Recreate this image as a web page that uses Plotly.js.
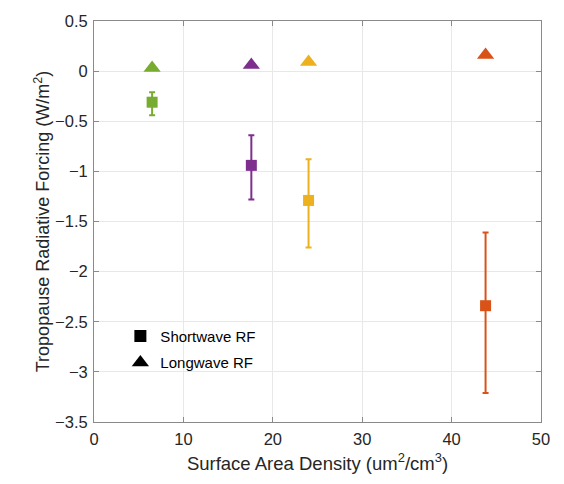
<!DOCTYPE html>
<html><head><meta charset="utf-8">
<script src="https://cdn.plot.ly/plotly-3.0.1.min.js"></script>
<style>body{margin:0;background:#fff}#c{width:564px;height:484px}</style>
</head><body><div id="c"></div>
<script>
const sad = [6.5, 17.6, 24.0, 43.8];
const colors = ['#77AC30', '#7E2F8E', '#EDB120', '#D95319'];
const swRF = [-0.31, -0.94, -1.29, -2.34];
const swErrPlus = [0.10, 0.30, 0.41, 0.73];
const swErrMinus = [0.13, 0.34, 0.47, 0.87];
const lwRF = [0.03, 0.06, 0.09, 0.16];
const legendNames = ['Shortwave RF', 'Longwave RF'];

const traces = [];
for (let i = 0; i < sad.length; i++) {
  traces.push({
    x: [sad[i]], y: [swRF[i]], type: 'scatter', mode: 'markers', showlegend: false,
    marker: {symbol: 'square', size: 11, color: colors[i]},
    error_y: {type: 'data', symmetric: false, array: [swErrPlus[i]], arrayminus: [swErrMinus[i]],
      color: colors[i], thickness: 2, width: 3}
  });
  traces.push({
    x: [sad[i]], y: [lwRF[i]], type: 'scatter', mode: 'markers', showlegend: false,
    marker: {symbol: 'triangle-up', size: 15, color: colors[i]}
  });
}
traces.push({x: [null], y: [null], type: 'scatter', mode: 'markers', name: legendNames[0],
  legendgroup: 'a', marker: {symbol: 'square', size: 12, color: '#000'}});
traces.push({x: [null], y: [null], type: 'scatter', mode: 'markers', name: legendNames[1],
  legendgroup: 'b', marker: {symbol: 'triangle-up', size: 15, color: '#000'}});

const FONT = 'Liberation Sans, Arial, sans-serif';
const axisCommon = {
  showline: true, linecolor: '#8a8a8a', linewidth: 1, mirror: 'ticks',
  ticks: 'inside', ticklen: 5, tickcolor: '#8a8a8a',
  showgrid: true, gridcolor: '#e8e8e8', zeroline: false,
  tickfont: {family: FONT, size: 16.5, color: '#262626'}
};
const layout = {
  width: 564, height: 484,
  margin: {l: 94, r: 23, t: 21, b: 62},
  paper_bgcolor: '#fff', plot_bgcolor: '#fff',
  xaxis: Object.assign({}, axisCommon, {range: [0, 50], dtick: 10, ticklabelstandoff: 2,
    title: {text: 'Surface Area Density (um<sup>2</sup>/cm<sup>3</sup>)', standoff: 10,
      font: {family: FONT, size: 18.5, color: '#262626'}}}),
  yaxis: Object.assign({}, axisCommon, {range: [-3.5, 0.5], dtick: 0.5, ticklabelstandoff: 2,
    title: {text: 'Tropopause Radiative Forcing (W/m<sup>2</sup>)', standoff: 0,
      font: {family: FONT, size: 18, color: '#262626'}}}),
  showlegend: true,
  legend: {x: 0.059, y: 0.255, xanchor: 'left', yanchor: 'top', bgcolor: 'rgba(0,0,0,0)',
    traceorder: 'grouped', tracegroupgap: 4,
    font: {family: FONT, size: 15, color: '#000'}}
};
Plotly.newPlot('c', traces, layout, {displayModeBar: false});
</script></body></html>
